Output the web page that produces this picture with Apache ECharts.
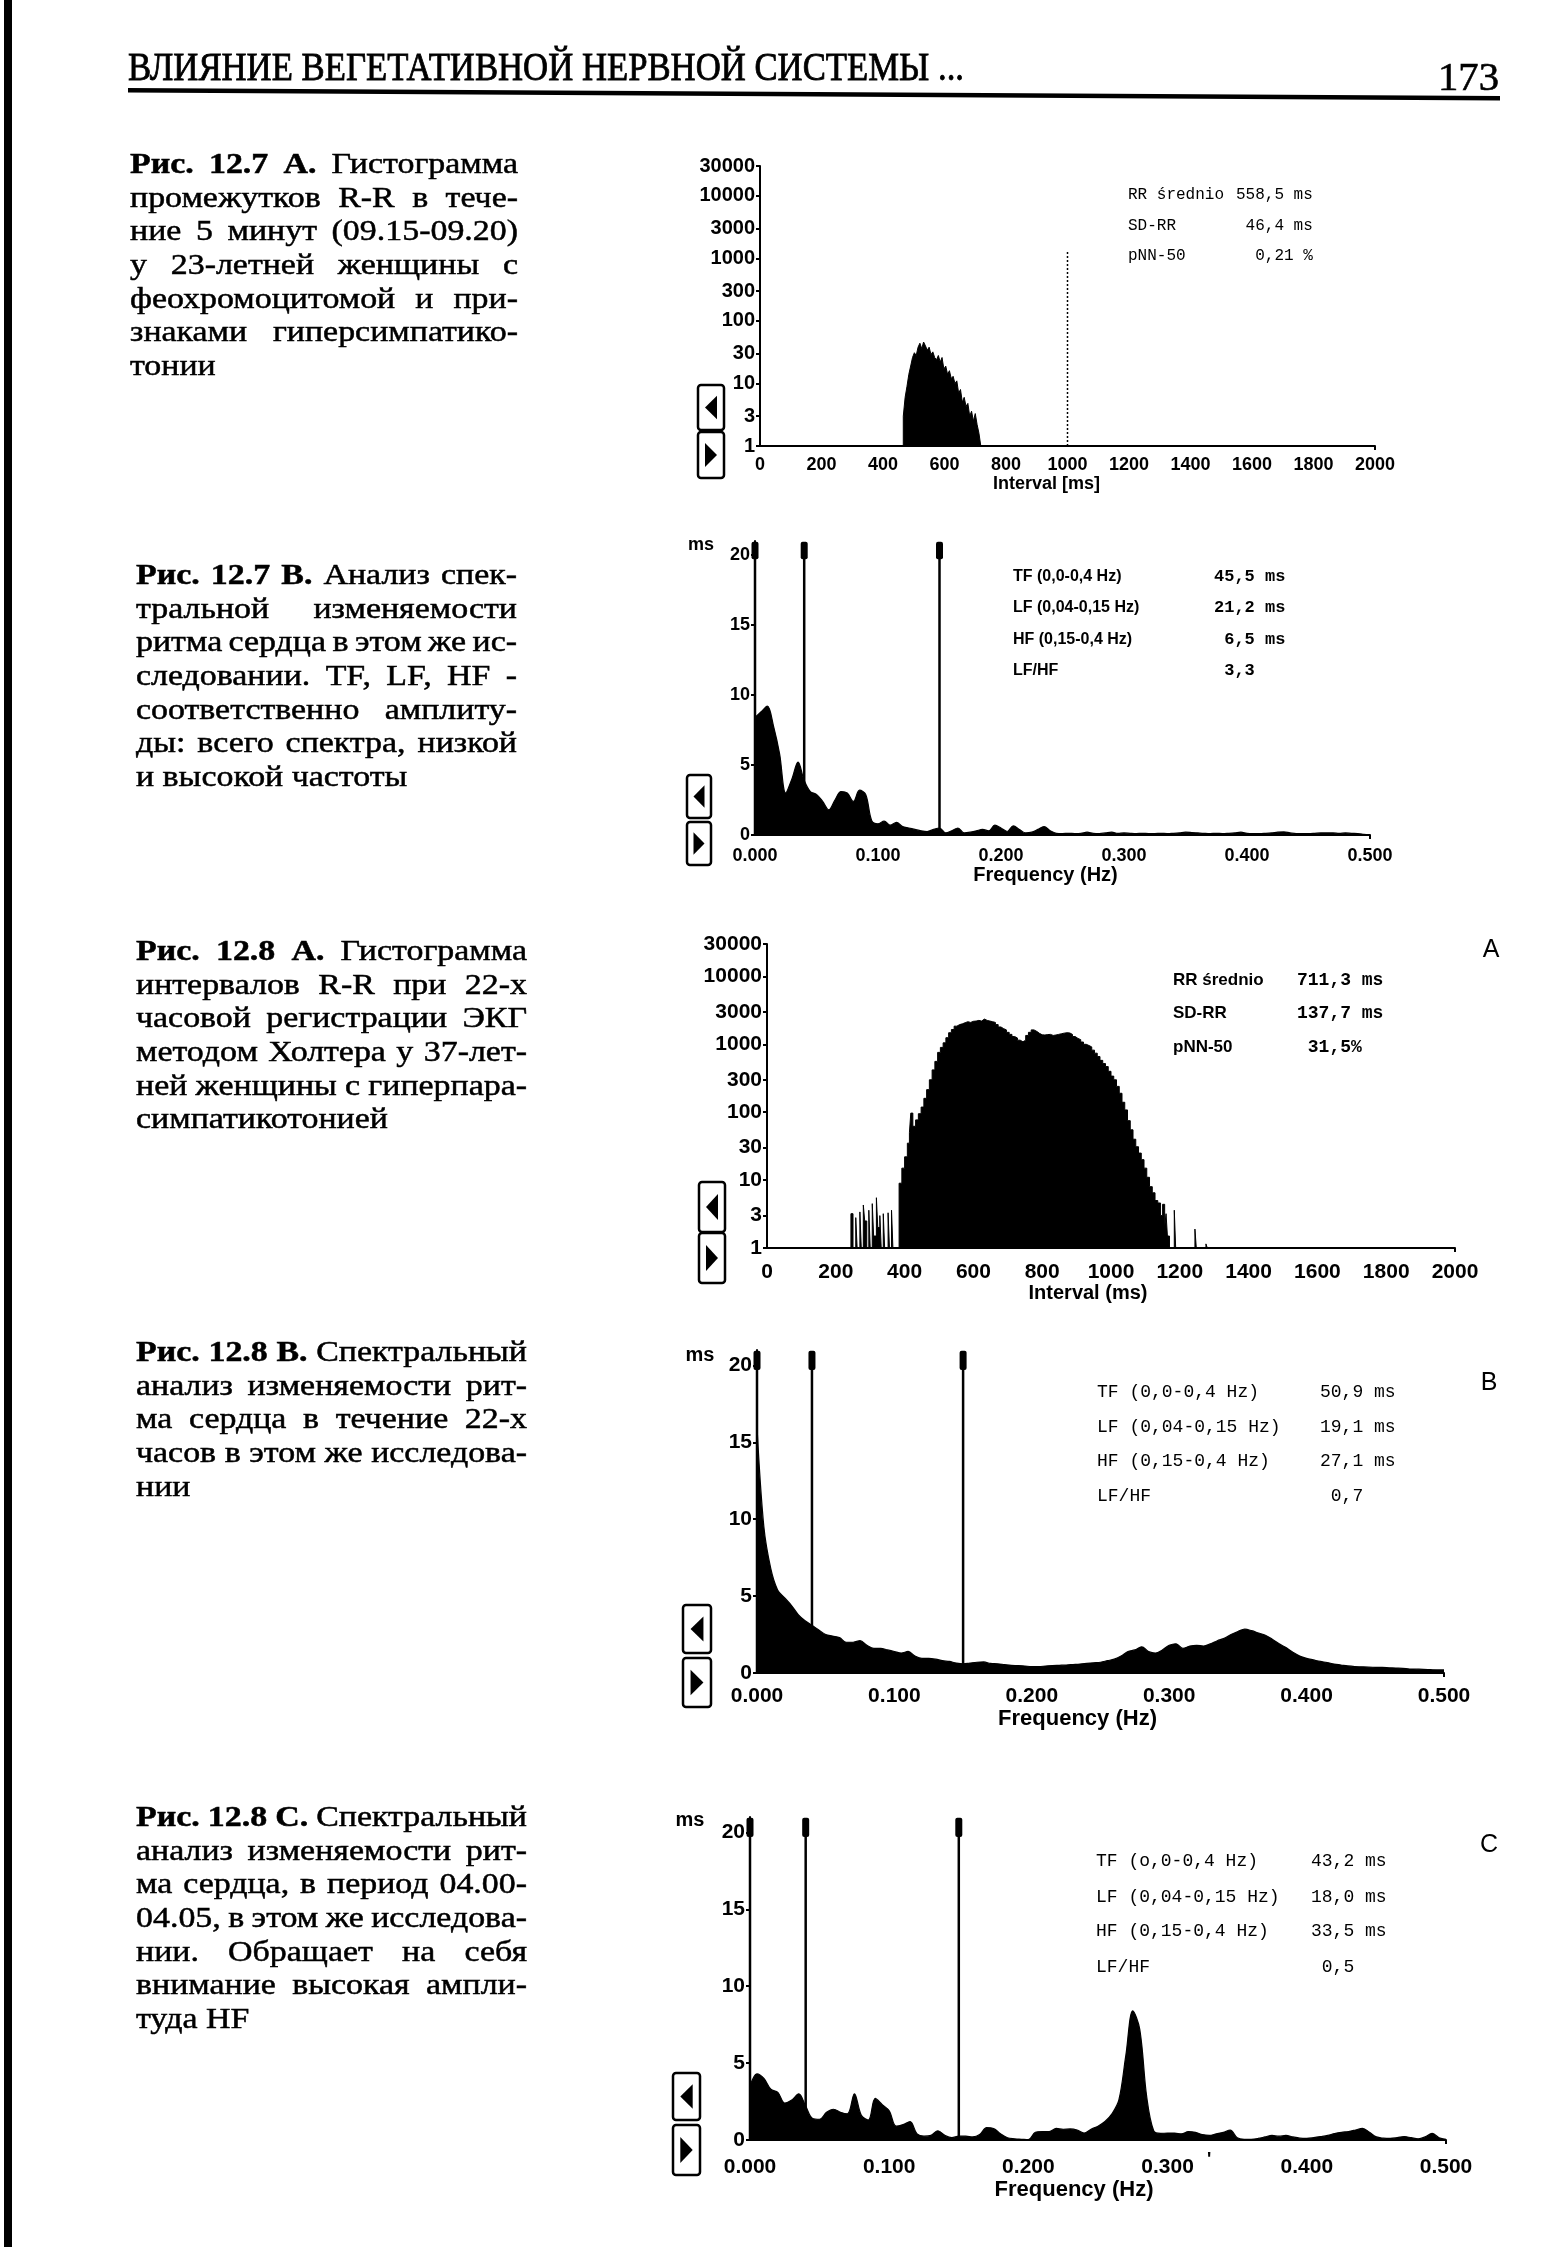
<!DOCTYPE html>
<html>
<head>
<meta charset="utf-8">
<script src="https://cdn.jsdelivr.net/npm/echarts@6/dist/echarts.min.js"></script>
<style>
html,body{margin:0;padding:0;background:#fff;}
#c{width:1542px;height:2247px;}
</style>
</head>
<body>
<div id="c"></div>
<script>
// ================= DATA =================
const HEADER_TITLE = 'ВЛИЯНИЕ ВЕГЕТАТИВНОЙ НЕРВНОЙ СИСТЕМЫ ...';
const PAGE_NO = '173';

// log-axis tick labels for the R-R histograms
const LOG_TICK_VALUES = [1, 3, 10, 30, 100, 300, 1000, 3000, 10000, 30000];
const LOG_TICK_LABELS = ['1', '3', '10', '30', '100', '300', '1000', '3000', '10000', '30000'];
// spectrum y ticks
const SPEC_Y_TICKS = [0, 5, 10, 15, 20];
// band markers (Hz): 0, LF start 0.04, HF start 0.15
const BAND_MARKERS = [0, 0.04, 0.15];
// spectrum sampling step (Hz)
const FREQ_STEP = 0.005;

// Fig 12.7 A: R-R histogram, [interval ms, count] (bin left edges)
const HIST_127A = [[0,1],[466,3],[472,6],[478,9],[484,14],[490,19],[496,26],[502,31],[508,28],[514,38],[520,44],[526,36],[532,46],[538,40],[544,34],[550,38],[556,29],[562,32],[568,26],[574,24],[580,28],[586,22],[592,26],[598,17],[604,19],[610,14],[616,16],[622,12],[628,13],[634,10],[640,11],[646,7],[652,8],[658,5],[664,6],[670,4.3],[676,4.8],[682,3],[688,3.6],[694,2.5],[700,3.3],[706,2.2],[712,1.6],[718,1],[2000,1]];
const DOTTED_127A = [[1000,1],[1000,1300]];

// Fig 12.7 B: spectrum amplitude (ms), 0..0.5 Hz every 0.005 Hz
const SPEC_127B = [8.4,8.8,9.2,7.8,5.8,3.0,4.0,5.2,3.9,3.1,
 2.9,2.4,1.8,2.5,3.1,3.0,2.4,3.2,2.9,1.0,
 0.8,1.0,0.7,0.9,0.6,0.5,0.4,0.3,0.25,0.4,
 0.5,0.15,0.3,0.5,0.15,0.2,0.3,0.4,0.3,0.7,
 0.5,0.25,0.65,0.4,0.15,0.2,0.4,0.6,0.3,0.12,
 0.1,0.12,0.1,0.12,0.2,0.12,0.1,0.15,0.2,0.12,
 0.15,0.12,0.1,0.12,0.1,0.1,0.12,0.1,0.12,0.15,
 0.2,0.18,0.15,0.12,0.1,0.12,0.1,0.12,0.15,0.2,
 0.12,0.1,0.1,0.12,0.15,0.2,0.22,0.15,0.1,0.1,
 0.1,0.12,0.15,0.15,0.15,0.12,0.15,0.12,0.1,0.05,
 0];

// Fig 12.8 A: R-R histogram 22 h, [interval ms, count]
const HIST_128A = [[0,1],[244,3.2],[250,1],[258,2.8],[262,1],[270,3.4],[274,1],[280,4.3],[284,2.5],[290,1],[296,3.6],[300,1],[306,4.5],[310,1.5],[318,5.5],[322,2],[328,3],[332,1],[338,3.2],[342,1],[352,3.3],[356,1],[362,3.6],[366,1],
 [384,9],[392,15],[400,22],[408,35],[414,50],[418,97],[424,62],[432,77],[440,95],[448,119],[456,160],[464,215],[472,300],[480,420],[488,560],[496,760],[504,900],[512,1050],[520,1250],[528,1480],[536,1650],[544,1850],[552,1950],[560,2000],[568,2080],[576,2150],[584,2100],[592,2180],[600,2200],[608,2250],[616,2200],[624,2350],[632,2250],[640,2200],[648,2150],[656,2100],[664,1950],[672,1800],[680,1700],[688,1630],[696,1500],[704,1400],[712,1300],[720,1240],[728,1150],[736,1090],[744,1150],[752,1350],[760,1500],[768,1630],[776,1550],[784,1450],[792,1380],[800,1370],[808,1390],[816,1400],[824,1350],[832,1370],[840,1400],[848,1430],[856,1460],[864,1480],[872,1470],[880,1400],[888,1300],[896,1220],[904,1170],[912,1080],[920,1000],[928,960],[936,915],[944,820],[952,740],[960,660],[968,580],[976,520],[984,470],[992,400],[1000,340],[1008,300],[1016,240],[1024,190],[1032,140],[1040,108],[1048,75],[1056,55],[1064,40],[1072,31],[1080,25],[1088,20],[1096,15],[1104,11],[1112,8],[1120,6.5],[1128,5],[1136,4.6],[1144,3],[1150,4.4],[1156,2],[1160,3.2],[1164,1.5],[1170,1],[1184,3.6],[1188,1],[1244,1.9],[1248,1],[1276,1.15],[1280,1],[2000,1]];

// Fig 12.8 B: spectrum 22 h
const SPEC_128B = [16,9.5,6.8,5.4,4.9,4.4,3.8,3.4,3.1,2.8,
 2.5,2.4,2.3,2.0,2.0,2.1,1.8,1.6,1.6,1.5,
 1.4,1.3,1.4,1.1,0.95,0.95,0.9,0.8,0.75,0.65,
 0.6,0.65,0.7,0.72,0.62,0.6,0.55,0.5,0.48,0.45,
 0.42,0.42,0.45,0.48,0.5,0.52,0.55,0.58,0.62,0.66,
 0.7,0.8,0.9,1.1,1.4,1.5,1.7,1.4,1.3,1.5,
 1.8,1.9,1.6,1.75,1.8,1.75,1.9,2.1,2.25,2.5,
 2.7,2.85,2.75,2.6,2.45,2.2,1.9,1.65,1.35,1.1,
 0.95,0.85,0.75,0.68,0.58,0.52,0.46,0.42,0.4,0.38,
 0.37,0.36,0.34,0.32,0.3,0.26,0.25,0.24,0.22,0.2,
 0.2];

// Fig 12.8 C: spectrum 04.00-04.05
const SPEC_128C = [3.5,4.3,4.0,3.3,3.1,2.4,2.6,3.0,2.2,1.4,
 1.35,1.8,2.0,1.8,1.7,3.0,1.6,1.3,2.7,2.3,
 1.9,0.9,1.0,1.2,0.4,0.25,0.3,0.6,0.3,0.15,
 0.25,0.25,0.2,0.35,0.8,0.75,0.4,0.15,0.08,0.05,
 0.02,0.5,0.55,0.55,0.75,0.7,0.72,0.65,0.45,0.7,
 0.9,1.2,1.7,2.6,5.5,8.4,7.2,2.8,0.6,0.43,
 0.45,0.45,0.4,0.55,0.5,0.35,0.3,0.4,0.5,0.65,
 0.15,0.05,0.05,0.1,0.2,0.3,0.25,0.3,0.2,0.12,
 0.1,0.15,0.22,0.3,0.42,0.5,0.55,0.65,0.76,0.5,
 0.2,0.12,0.1,0.15,0.22,0.15,0.08,0.2,0.43,0.15,
 0.05];

// statistics boxes [label, value]
const STATS_127A = [['RR średnio','558,5 ms'],['SD-RR',' 46,4 ms'],['pNN-50','  0,21 %']];
const STATS_127B = [['TF (0,0-0,4 Hz)','45,5 ms'],['LF (0,04-0,15 Hz)','21,2 ms'],['HF (0,15-0,4 Hz)',' 6,5 ms'],['LF/HF',' 3,3']];
const STATS_128A = [['RR średnio','711,3 ms'],['SD-RR','137,7 ms'],['pNN-50',' 31,5%']];
const STATS_128B = [['TF (0,0-0,4 Hz)','50,9 ms'],['LF (0,04-0,15 Hz)','19,1 ms'],['HF (0,15-0,4 Hz)','27,1 ms'],['LF/HF',' 0,7']];
const STATS_128C = [['TF (o,0-0,4 Hz)','43,2 ms'],['LF (0,04-0,15 Hz)','18,0 ms'],['HF (0,15-0,4 Hz)','33,5 ms'],['LF/HF',' 0,5']];

// captions
const CAP_127A = {bold:'Рис. 12.7 А.', lines:['Гистограмма','промежутков R-R в тече-','ние 5 минут (09.15-09.20)','у 23-летней женщины с','феохромоцитомой и при-','знаками гиперсимпатико-','тонии']};
const CAP_127B = {bold:'Рис. 12.7 В.', lines:['Анализ спек-','тральной изменяемости','ритма сердца в этом же ис-','следовании. TF, LF, HF -','соответственно амплиту-','ды: всего спектра, низкой','и высокой частоты']};
const CAP_128A = {bold:'Рис. 12.8 А.', lines:['Гистограмма','интервалов R-R при 22-х','часовой регистрации ЭКГ','методом Холтера у 37-лет-','ней женщины с гиперпара-','симпатикотонией']};
const CAP_128B = {bold:'Рис. 12.8 В.', lines:['Спектральный','анализ изменяемости рит-','ма сердца в течение 22-х','часов в этом же исследова-','нии']};
const CAP_128C = {bold:'Рис. 12.8 С.', lines:['Спектральный','анализ изменяемости рит-','ма сердца, в период 04.00-','04.05, в этом же исследова-','нии. Обращает на себя','внимание высокая ампли-','туда HF']};

const PANEL_LETTERS = ['A','B','C'];

// ================= LAYOUT / STYLE =================
const SERIF = '"Liberation Serif","Times New Roman",serif';
const SANS = '"Liberation Sans",Arial,sans-serif';
const MONO = '"Liberation Mono","DejaVu Sans Mono",monospace';

const mctx = document.createElement('canvas').getContext('2d');
function textW(t, font){ mctx.font = font; return mctx.measureText(t).width; }

function T(x, y, text, font, o){
  o = o || {};
  const al = o.align || 'left';
  const st = {text:text, font:font, fill:'#000', align:al, verticalAlign:'middle'};
  if (o.heavy) { st.stroke = '#000'; st.lineWidth = o.heavy; }
  const el = {type:'text', x:x, y:y, silent:true, z:10, style:st};
  if (o.scaleX) el.scaleX = o.scaleX;
  return el;
}

const CAP_STRETCH = 1.13;
function paragraph(cap, x, y0, width, lh, size){
  const els = [];
  const n = cap.lines.length;
  const spaceW = textW(' ', size + 'px ' + SERIF) * CAP_STRETCH;
  cap.lines.forEach(function(line, li){
    let words = line.split(' ').filter(Boolean).map(function(w){return {t:w, b:false};});
    if (li === 0) words = cap.bold.split(' ').map(function(w){return {t:w, b:true};}).concat(words);
    const fonts = words.map(function(w){ return (w.b ? 'bold ' : '') + size + 'px ' + SERIF; });
    const ws = words.map(function(w, i){ return textW(w.t, fonts[i]); });
    const sum = ws.reduce(function(a,b){return a+b;}, 0);
    const last = li === n - 1;
    let sx = CAP_STRETCH;
    let gap = last ? spaceW : (words.length > 1 ? (width - sum * sx) / (words.length - 1) : 0);
    if (!last && gap < spaceW * 0.55) { gap = spaceW * 0.55; sx = (width - gap * (words.length - 1)) / sum; }
    let cx = x;
    words.forEach(function(w, i){
      els.push(T(cx, y0 + li * lh, w.t, fonts[i], {scaleX:sx, heavy:0.5}));
      cx += ws[i] * sx + gap;
    });
  });
  return els;
}

function statsBlock(stats, lx, vx, ys, lfont, vfont){
  const els = [];
  stats.forEach(function(r, i){
    els.push(T(lx, ys[i], r[0], lfont));
    els.push(T(vx, ys[i], r[1], vfont));
  });
  return els;
}

function navButtons(x, w, y1, h1, y2, h2){
  const els = [];
  [[y1,h1,'L'],[y2,h2,'R']].forEach(function(b){
    const y = b[0], h = b[1];
    els.push({type:'rect', silent:true, z:10, shape:{x:x, y:y, width:w, height:h, r:3}, style:{fill:'#fff', stroke:'#000', lineWidth:2.5}});
    const cx = x + w/2, cy = y + h/2, tw = w*0.23, th = h*0.26;
    const pts = b[2] === 'L' ? [[cx+tw, cy-th],[cx+tw, cy+th],[cx-tw, cy]] : [[cx-tw, cy-th],[cx-tw, cy+th],[cx+tw, cy]];
    els.push({type:'polygon', silent:true, z:10, shape:{points:pts}, style:{fill:'#000'}});
  });
  return els;
}

// ---------- panels geometry ----------
const P = [
  {kind:'hist', left:760, top:166, width:615, height:280, lab:18, labY:20, name:'Interval [ms]', nameSize:18, nameGap:28, nameShift:21, margin:10},
  {kind:'spec', left:755, top:541, width:615, height:294, lab:18, labY:18, name:'Frequency (Hz)', nameSize:20, nameGap:30, nameShift:17, margin:12},
  {kind:'hist', left:767, top:944, width:688, height:304, lab:21, labY:21, name:'Interval (ms)', nameSize:20, nameGap:34, nameShift:23, margin:14},
  {kind:'spec', left:757, top:1350, width:687, height:323, lab:21, labY:21, name:'Frequency (Hz)', nameSize:22, nameGap:32, nameShift:23, margin:13},
  {kind:'spec', left:750, top:1817, width:696, height:323, lab:21, labY:21, name:'Frequency (Hz)', nameSize:22, nameGap:33, nameShift:24, margin:17}
];

const grids = [], xAxes = [], yAxes = [], series = [];
const LOG_MAX_EXP = Math.log10(30000);

function labelStyle(size){
  return {color:'#000', fontFamily:SANS, fontWeight:'bold', fontSize:size};
}

P.forEach(function(p, gi){
  grids.push({left:p.left, top:p.top, width:p.width, height:p.height, containLabel:false, outerBoundsMode:'none'});
  const xa = {
    type:'value', gridIndex:gi, position:'bottom', splitLine:{show:false},
    axisLine:{show:true, onZero:false, lineStyle:{color:'#000', width:2}},
    name:p.name, nameLocation:'middle', nameGap:p.nameGap,
    nameTextStyle:{color:'#000', fontFamily:SANS, fontWeight:'bold', fontSize:p.nameSize, padding:[0, p.nameShift*2, 0, 0]},
    axisLabel:Object.assign(labelStyle(p.lab), {margin:p.margin})
  };
  if (p.kind === 'hist') {
    Object.assign(xa, {min:0, max:2000, interval:200, axisTick:{show:true, customValues:[2000], length:4, lineStyle:{color:'#000', width:2}}});
    xa.axisLabel.formatter = function(v){ return String(Math.round(v)); };
  } else {
    Object.assign(xa, {min:0, max:0.5, interval:0.1, axisTick:{show:true, customValues:[0.5], length:4, lineStyle:{color:'#000', width:2}}});
    xa.axisLabel.formatter = function(v){ return v.toFixed(3); };
  }
  xAxes.push(xa);
  p.xIndex = gi;

  if (p.kind === 'hist') {
    p.yIndex = yAxes.length;
    yAxes.push({type:'log', logBase:10, gridIndex:gi, position:'left', min:1, max:30000, show:false});
    const tickPos = LOG_TICK_VALUES.map(function(v){ return Math.log10(v); });
    yAxes.push({type:'value', gridIndex:gi, position:'left', offset:0, min:0, max:LOG_MAX_EXP, splitLine:{show:false},
      axisLine:{show:true, onZero:false, lineStyle:{color:'#000', width:2}},
      axisTick:{show:true, customValues:tickPos, length:4, lineStyle:{color:'#000', width:2}},
      axisLabel:Object.assign(labelStyle(p.labY), {customValues:tickPos, margin:5, formatter:function(v){
        for (let i = 0; i < tickPos.length; i++) if (Math.abs(tickPos[i] - v) < 1e-6) return LOG_TICK_LABELS[i];
        return '';
      }})
    });
  } else {
    p.yIndex = yAxes.length;
    yAxes.push({type:'value', gridIndex:gi, position:'left', min:0, max:21, splitLine:{show:false},
      axisLine:{show:true, onZero:false, lineStyle:{color:'#000', width:2}},
      axisTick:{show:true, customValues:SPEC_Y_TICKS, length:4, lineStyle:{color:'#000', width:2}},
      axisLabel:Object.assign(labelStyle(p.labY), {customValues:SPEC_Y_TICKS, margin:5})
    });
  }
});

function histSeries(p, data){
  return {type:'line', xAxisIndex:p.xIndex, yAxisIndex:p.yIndex, data:data, step:'end', symbol:'none',
    lineStyle:{color:'#000', width:1}, areaStyle:{color:'#000', opacity:1, origin:'start'}, z:3, silent:true};
}
function specSeries(p, vals){
  return {type:'line', xAxisIndex:p.xIndex, yAxisIndex:p.yIndex,
    data:vals.map(function(v, i){ return [i * FREQ_STEP, v]; }),
    smooth:0.35, symbol:'none', lineStyle:{color:'#000', width:1.2}, areaStyle:{color:'#000', opacity:1, origin:'start'}, z:3, silent:true};
}
function markerSeries(p){
  return {type:'custom', xAxisIndex:p.xIndex, yAxisIndex:p.yIndex, clip:false, silent:true, z:6,
    data:BAND_MARKERS.map(function(v){ return [v, 20.9]; }), encode:{x:0, y:1},
    renderItem:function(params, api){
      const x = api.value(0);
      const base = api.coord([x, 0]);
      const top = api.coord([x, 20.2]);
      const hTop = api.coord([x, 20.95]);
      const hBot = api.coord([x, 19.7]);
      return {type:'group', children:[
        {type:'line', shape:{x1:base[0], y1:base[1], x2:top[0], y2:top[1]}, style:{stroke:'#000', lineWidth:2.5}},
        {type:'rect', shape:{x:hTop[0]-3.5, y:hTop[1], width:7, height:hBot[1]-hTop[1], r:2}, style:{fill:'#000'}}
      ]};
    }};
}

series.push(histSeries(P[0], HIST_127A));
series.push({type:'line', xAxisIndex:P[0].xIndex, yAxisIndex:P[0].yIndex, data:DOTTED_127A, symbol:'none', silent:true, z:4,
  lineStyle:{color:'#000', width:1.5, type:[2,2]}});
series.push(specSeries(P[1], SPEC_127B));
series.push(markerSeries(P[1]));
series.push(histSeries(P[2], HIST_128A));
series.push(specSeries(P[3], SPEC_128B));
series.push(markerSeries(P[3]));
series.push(specSeries(P[4], SPEC_128C));
series.push(markerSeries(P[4]));

// ---------- page graphics ----------
let G = [];
// scan border at left edge
G.push({type:'rect', silent:true, shape:{x:4, y:0, width:8, height:2247}, style:{fill:'#000'}});
// running header
const hdrFont = '39px ' + SERIF;
G.push(T(128, 70, HEADER_TITLE, hdrFont, {scaleX: 836 / textW(HEADER_TITLE, hdrFont), heavy:0.8}));
const pgFont = '41px ' + SERIF;
G.push(T(1438, 79, PAGE_NO, pgFont, {scaleX: 61 / textW(PAGE_NO, pgFont), heavy:0.6}));
G.push({type:'polygon', silent:true, shape:{points:[[128,88],[1500,96],[1500,100.5],[128,92.5]]}, style:{fill:'#000'}});

// captions
const CAP_SIZE = 30, LH = 33.7;
G = G.concat(paragraph(CAP_127A, 130, 165, 388, LH, CAP_SIZE));
G = G.concat(paragraph(CAP_127B, 136, 576, 381, LH, CAP_SIZE));
G = G.concat(paragraph(CAP_128A, 136, 952, 391, LH, CAP_SIZE));
G = G.concat(paragraph(CAP_128B, 136, 1353, 391, LH, CAP_SIZE));
G = G.concat(paragraph(CAP_128C, 136, 1818, 391, LH, CAP_SIZE));

// statistics
G = G.concat(statsBlock(STATS_127A, 1128, 1236, [195, 226, 256], '16px ' + MONO, '16px ' + MONO));
G = G.concat(statsBlock(STATS_127B, 1013, 1214, [577, 608, 640, 671], 'bold 16px ' + SANS, 'bold 17px ' + MONO));
G = G.concat(statsBlock(STATS_128A, 1173, 1297, [980, 1013, 1047], 'bold 17px ' + SANS, 'bold 18px ' + MONO));
G = G.concat(statsBlock(STATS_128B, 1097, 1320, [1392, 1427, 1461, 1496], '18px ' + MONO, '18px ' + MONO));
G = G.concat(statsBlock(STATS_128C, 1096, 1311, [1861, 1897, 1931, 1967], '18px ' + MONO, '18px ' + MONO));

// panel letters
G.push(T(1491, 950, PANEL_LETTERS[0], '25px ' + SANS, {align:'center'}));
G.push(T(1489, 1383, PANEL_LETTERS[1], '25px ' + SANS, {align:'center'}));
G.push(T(1489, 1845, PANEL_LETTERS[2], '25px ' + SANS, {align:'center'}));

// "ms" units on spectra
G.push(T(701, 545, 'ms', 'bold 18px ' + SANS, {align:'center'}));
G.push(T(700, 1355, 'ms', 'bold 20px ' + SANS, {align:'center'}));
G.push(T(690, 1820, 'ms', 'bold 20px ' + SANS, {align:'center'}));
// scan speck next to 0.300
G.push(T(1207, 2160, "'", 'bold 18px ' + SANS));

// navigation buttons
G = G.concat(navButtons(698, 26, 385, 45, 432, 46));
G = G.concat(navButtons(687, 24, 775, 43, 822, 43));
G = G.concat(navButtons(699, 26, 1182, 50, 1233, 50));
G = G.concat(navButtons(683, 28, 1605, 48, 1658, 49));
G = G.concat(navButtons(673, 27, 2073, 47, 2125, 50));

const chart = echarts.init(document.getElementById('c'), null, {renderer:'canvas', width:1542, height:2247});
chart.setOption({
  animation:false,
  backgroundColor:'#fff',
  grid:grids, xAxis:xAxes, yAxis:yAxes, series:series,
  graphic:{elements:G}
});
</script>
</body>
</html>
